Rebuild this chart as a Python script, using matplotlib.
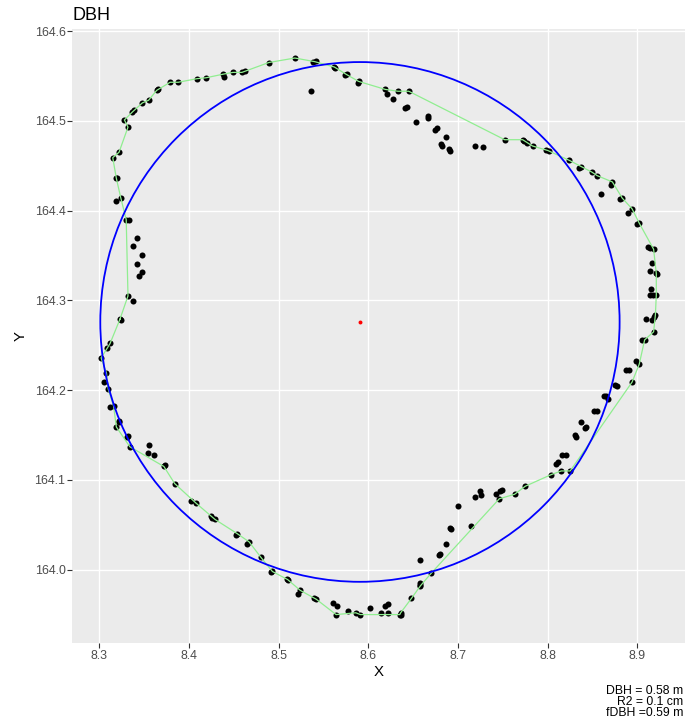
import matplotlib
matplotlib.use("Agg")
import matplotlib.pyplot as plt
from matplotlib.patches import Circle
import numpy as np

plt.rcParams['font.family'] = ['Liberation Sans', 'DejaVu Sans']

# ---- data: stem cross-section points ----
pts_x = [
    8.518, 8.538, 8.542, 8.562, 8.563, 8.574, 8.576, 8.588, 8.589, 8.536,
    8.489, 8.459, 8.462, 8.449, 8.438, 8.439, 8.419, 8.409, 8.388, 8.379,
    8.364, 8.365, 8.355, 8.348, 8.337, 8.339, 8.328, 8.332, 8.322, 8.315,
    8.319, 8.320, 8.319, 8.324, 8.330, 8.333, 8.342, 8.338, 8.348, 8.342,
    8.348, 8.344, 8.332, 8.338, 8.323, 8.324,
    8.619, 8.621, 8.628, 8.633, 8.645, 8.641, 8.643, 8.653, 8.666, 8.667,
    8.674, 8.676, 8.686, 8.681, 8.682, 8.690, 8.691, 8.719, 8.728, 8.752,
    8.772, 8.774, 8.777, 8.783, 8.798, 8.801, 8.824, 8.835, 8.837, 8.849,
    8.855, 8.859, 8.870, 8.872, 8.881, 8.883, 8.894, 8.890, 8.900, 8.902,
    8.912, 8.914, 8.918, 8.916, 8.914, 8.921, 8.922, 8.915, 8.914, 8.917,
    8.921, 8.910, 8.916, 8.918, 8.920, 8.918, 8.905, 8.908,
    8.898, 8.902, 8.887, 8.891, 8.894, 8.875, 8.877, 8.863, 8.865, 8.867,
    8.851, 8.855, 8.837, 8.841, 8.843, 8.830, 8.832, 8.809, 8.811, 8.816,
    8.820, 8.804, 8.815, 8.825, 8.775, 8.763, 8.746, 8.742, 8.747, 8.749,
    8.725, 8.726, 8.719, 8.700, 8.714, 8.691, 8.692, 8.686, 8.679, 8.680,
    8.657, 8.670, 8.657, 8.658, 8.657, 8.648, 8.636, 8.635, 8.636, 8.622,
    8.618, 8.622, 8.614, 8.602,
    8.309, 8.312, 8.302, 8.308, 8.305, 8.310, 8.312, 8.316, 8.319, 8.322,
    8.322, 8.331, 8.332, 8.334, 8.355, 8.354, 8.361, 8.372, 8.373, 8.384,
    8.402, 8.408, 8.424, 8.426, 8.429, 8.452, 8.454, 8.465, 8.467, 8.480,
    8.491, 8.493, 8.509, 8.510, 8.521, 8.524, 8.539, 8.542, 8.560, 8.565,
    8.564, 8.577, 8.586, 8.591,
]
pts_y = [
    164.570, 164.566, 164.567, 164.560, 164.559, 164.551, 164.552, 164.542, 164.544, 164.533,
    164.565, 164.554, 164.556, 164.554, 164.552, 164.549, 164.548, 164.547, 164.543, 164.543,
    164.534, 164.535, 164.523, 164.520, 164.510, 164.512, 164.501, 164.493, 164.465, 164.459,
    164.436, 164.436, 164.411, 164.414, 164.390, 164.390, 164.370, 164.361, 164.351, 164.340,
    164.332, 164.327, 164.305, 164.299, 164.279, 164.278,
    164.535, 164.530, 164.524, 164.533, 164.533, 164.514, 164.515, 164.499, 164.503, 164.505,
    164.490, 164.492, 164.482, 164.474, 164.472, 164.469, 164.466, 164.472, 164.471, 164.479,
    164.479, 164.478, 164.475, 164.472, 164.467, 164.466, 164.456, 164.447, 164.449, 164.443,
    164.439, 164.418, 164.428, 164.432, 164.413, 164.414, 164.402, 164.397, 164.385, 164.386,
    164.359, 164.358, 164.357, 164.342, 164.333, 164.330, 164.329, 164.313, 164.306, 164.306,
    164.306, 164.279, 164.278, 164.281, 164.284, 164.265, 164.256, 164.256,
    164.233, 164.229, 164.222, 164.223, 164.209, 164.206, 164.205, 164.194, 164.194, 164.190,
    164.177, 164.177, 164.164, 164.158, 164.159, 164.150, 164.148, 164.118, 164.120, 164.128,
    164.128, 164.106, 164.110, 164.110, 164.093, 164.084, 164.079, 164.084, 164.088, 164.089,
    164.088, 164.083, 164.081, 164.071, 164.049, 164.046, 164.045, 164.029, 164.016, 164.018,
    164.011, 163.996, 163.985, 163.982, 163.983, 163.968, 163.952, 163.950, 163.949, 163.962,
    163.959, 163.952, 163.952, 163.957,
    164.247, 164.252, 164.236, 164.219, 164.209, 164.201, 164.181, 164.182, 164.159, 164.165,
    164.166, 164.148, 164.149, 164.137, 164.139, 164.130, 164.128, 164.115, 164.117, 164.096,
    164.077, 164.074, 164.060, 164.058, 164.056, 164.039, 164.040, 164.029, 164.031, 164.014,
    163.997, 163.998, 163.990, 163.989, 163.973, 163.977, 163.969, 163.967, 163.963, 163.960,
    163.950, 163.954, 163.952, 163.950,
]

# ---- outline path (green) ----
hull_x = [
    8.323, 8.332, 8.330, 8.324, 8.319, 8.315, 8.322, 8.332, 8.328, 8.337,
    8.348, 8.355, 8.364, 8.379, 8.388, 8.409, 8.419, 8.438, 8.449, 8.459,
    8.489, 8.518, 8.540, 8.562, 8.575, 8.589, 8.619, 8.633, 8.645, 8.752,
    8.772, 8.783, 8.800, 8.824, 8.849, 8.855, 8.872, 8.883, 8.894, 8.902,
    8.918, 8.921, 8.921, 8.920, 8.918, 8.908, 8.902, 8.894, 8.825, 8.815,
    8.804, 8.775, 8.763, 8.746, 8.670, 8.658, 8.648, 8.636, 8.635, 8.591,
    8.586, 8.564, 8.542, 8.524, 8.510, 8.493, 8.480, 8.467, 8.454, 8.429,
    8.408, 8.384, 8.372, 8.334, 8.319, 8.316, 8.310, 8.308, 8.302, 8.309,
    8.312, 8.323,
]
hull_y = [
    164.279, 164.305, 164.390, 164.414, 164.436, 164.459, 164.465, 164.493, 164.501, 164.510,
    164.520, 164.523, 164.534, 164.543, 164.543, 164.547, 164.548, 164.552, 164.554, 164.554,
    164.565, 164.570, 164.566, 164.560, 164.552, 164.544, 164.535, 164.533, 164.533, 164.479,
    164.479, 164.472, 164.467, 164.456, 164.443, 164.439, 164.432, 164.414, 164.402, 164.386,
    164.357, 164.330, 164.306, 164.284, 164.265, 164.256, 164.229, 164.209, 164.110, 164.110,
    164.106, 164.093, 164.084, 164.079, 163.996, 163.982, 163.968, 163.952, 163.950, 163.950,
    163.952, 163.950, 163.967, 163.977, 163.989, 163.998, 164.014, 164.031, 164.040, 164.056,
    164.074, 164.096, 164.115, 164.137, 164.159, 164.182, 164.201, 164.219, 164.236, 164.247,
    164.252, 164.279,
]

# fitted circle
center_x = 8.5906
center_y = 164.276
dbh = 0.579

x_ticks = [8.3, 8.4, 8.5, 8.6, 8.7, 8.8, 8.9]
y_ticks = [164.0, 164.1, 164.2, 164.3, 164.4, 164.5, 164.6]
caption_lines = ["DBH = 0.58 m", "R2 = 0.1 cm", "fDBH =0.59 m"]

W, H = 687, 727
fig = plt.figure(figsize=(W / 100, H / 100), dpi=100)
L, R, T, B = 72.3, 685.0, 29.3, 643.3
ax = fig.add_axes([L / W, 1 - B / H, (R - L) / W, (B - T) / H])
ax.set_facecolor('#EBEBEB')
for s in ax.spines.values():
    s.set_visible(False)

ax.scatter(pts_x, pts_y, s=19, color='black', linewidths=0, zorder=2)
ax.plot(hull_x, hull_y, color='#90EE90', lw=0.9, zorder=3)
ax.add_patch(Circle((center_x, center_y), dbh / 2, fill=False,
                    edgecolor='#0000FF', lw=1.3, zorder=4))
ax.scatter([center_x], [center_y], s=8, color='#FF0000', linewidths=0, zorder=5)

ax.set_xlim(8.2699, 8.953)
ax.set_ylim(163.918, 164.602)
ax.set_xticks(x_ticks)
ax.set_yticks(y_ticks)
ax.set_xticklabels([f"{v:.1f}" for v in x_ticks])
ax.set_yticklabels([f"{v:.1f}" for v in y_ticks])
ax.grid(True, color='white', lw=1.0, zorder=0)
ax.set_axisbelow(True)
ax.tick_params(axis='both', length=3.3, width=0.8, color='#333333',
               labelcolor='#4D4D4D', labelsize=8.9, pad=1.6)

ax.set_xlabel("X", fontsize=10.8, color='black', labelpad=2)
ax.set_ylabel("Y", fontsize=10.8, color='black', labelpad=5)
fig.text(L / W, 1 - 19.5 / H, "DBH", fontsize=13, ha='left', va='baseline')
for i, line in enumerate(caption_lines):
    fig.text(683 / W, 1 - (694.3 + 11 * i) / H, line, fontsize=8.8,
             ha='right', va='baseline')

fig.savefig("out.png", dpi=100)
